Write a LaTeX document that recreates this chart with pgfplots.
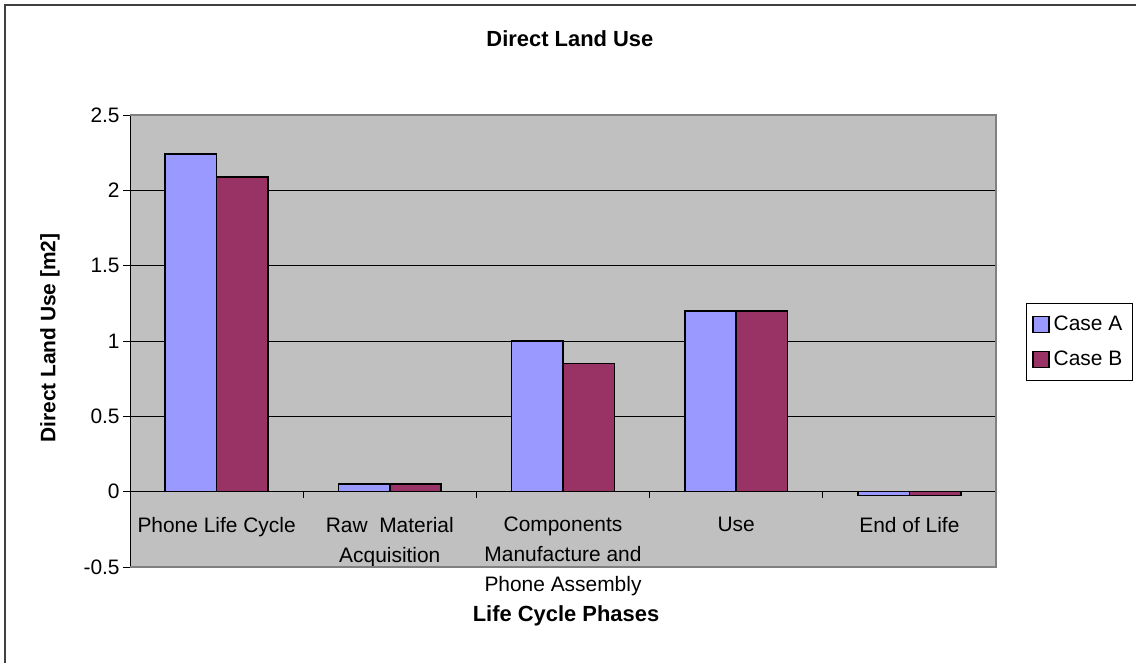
\documentclass[border=0pt]{standalone}
\usepackage{fontspec}
\setmainfont{Liberation Sans}
\usepackage{pgfplots}
\pgfplotsset{compat=1.18}
\definecolor{caseA}{HTML}{9999FF}
\definecolor{caseB}{HTML}{993366}
\definecolor{plotbg}{HTML}{C0C0C0}
\definecolor{plotedge}{HTML}{808080}

\begin{document}
\begin{tikzpicture}
\useasboundingbox (0,0) rectangle (568bp,-331.5bp);
% chart area frame (cropped on the right and bottom in the original)
\draw[line width=1bp, black!75] (2.5bp,-2.5bp) rectangle (620bp,-400bp);
\begin{axis}[
  at={(65bp,-283.5bp)}, anchor=south west,
  scale only axis, width=433bp, height=226bp,
  xmin=-0.5, xmax=4.5, ymin=-0.5, ymax=2.5,
  axis x line=middle, axis y line=left,
  axis line style={-, black, line width=0.5bp},
  axis background/.style={fill=plotbg},
  ybar=0pt, bar width=0.297,
  xtick={0,...,4},
  xticklabels={Phone Life Cycle, {Raw\ \ Material\\Acquisition}, {Components\\Manufacture and\\Phone Assembly}, Use, End of Life},
  minor xtick={0.5,1.5,2.5,3.5,4.5},
  major x tick style={draw=none},
  minor x tick style={black, line width=0.5bp},
  ytick={-0.5,0,0.5,1,1.5,2,2.5},
  y tick style={black, line width=0.5bp},
  tick align=outside, xtick align=outside,
  major tick length=3.5bp, minor tick length=3bp,
  ymajorgrids, major grid style={black, line width=0.5bp},
  /pgf/number format/assume math mode=true,
  xticklabel style={align=center, anchor=north, inner sep=0pt, yshift=-9bp,
    font=\fontsize{10.5}{15}\selectfont},
  yticklabel style={inner sep=1.5bp, font=\fontsize{10.5}{12}\selectfont},
  title={Direct Land Use},
  every axis title/.style={at={(axis description cs:0.508,1.151)}, anchor=base,
    font=\bfseries\fontsize{11}{13}\selectfont},
  xlabel={Life Cycle Phases},
  every axis x label/.style={at={(axis description cs:0.5035,-0.121)}, anchor=base,
    font=\bfseries\fontsize{11}{13}\selectfont},
  ylabel={Direct Land Use [m2]},
  every axis y label/.style={at={(axis description cs:-0.0924,0.5066)}, anchor=center,
    rotate=90, font=\bfseries\fontsize{10.5}{12}\selectfont},
  legend style={at={(1.0346,0.584)}, anchor=north west, draw=black, line width=0.5bp,
    fill=white, font=\fontsize{10.5}{12}\selectfont, inner xsep=3bp, inner ysep=4bp,
    row sep=5bp, cells={anchor=west}},
  legend image code/.code={\draw[#1, draw=black, line width=0.6bp] (0bp,-4bp) rectangle (8bp,4bp);},
  after end axis/.code={
    \draw[plotedge, line width=1bp] (rel axis cs:0,0) -- (rel axis cs:1,0)
      -- (rel axis cs:1,1) -- (rel axis cs:0,1);
  },
]
\addplot[fill=caseA, draw=black, line width=0.8bp]
  coordinates {(0,2.24) (1,0.05) (2,1.00) (3,1.20) (4,-0.025)};
\addlegendentry{Case A}
\addplot[fill=caseB, draw=black, line width=0.8bp]
  coordinates {(0,2.09) (1,0.05) (2,0.85) (3,1.20) (4,-0.025)};
\addlegendentry{Case B}
\end{axis}
\end{tikzpicture}
\end{document}
